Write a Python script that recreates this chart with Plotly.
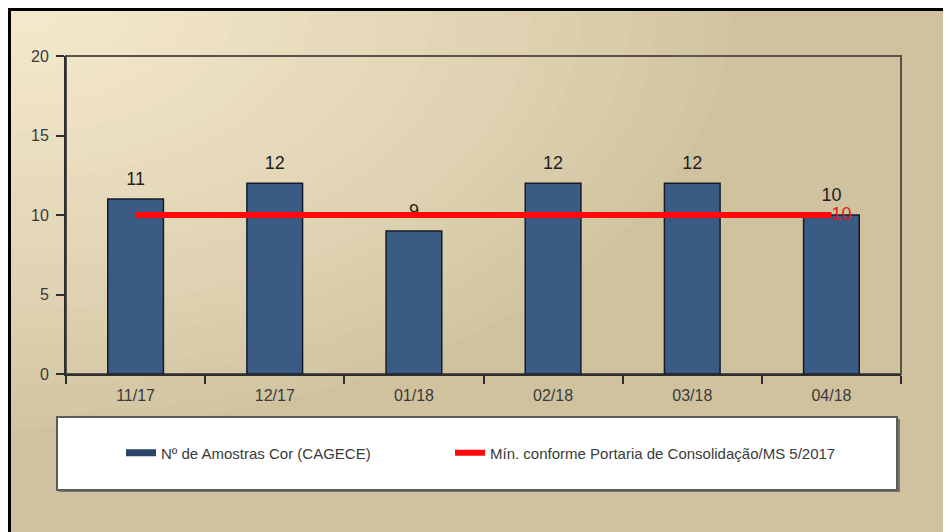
import plotly.graph_objects as go

categories = ["11/17", "12/17", "01/18", "02/18", "03/18", "04/18"]
amostras = [11, 12, 9, 12, 12, 10]
minimo = [10, 10, 10, 10, 10, 10]
y_ticks = [0, 5, 10, 15, 20]

OFF = 8  # page body margin
W, H = 951 - OFF, 532 - OFF
FONT = "Liberation Sans, Arial, sans-serif"

def px_x(x):
    return (x - OFF) / W

def px_y(y):
    return 1 - (y - OFF) / H

fig = go.Figure()

fig.add_trace(go.Bar(
    x=categories, y=amostras, width=0.4,
    marker=dict(color="#3b5a84", line=dict(color="#151b2b", width=1.5)),
    showlegend=False, hoverinfo="x+y",
))

# value labels above bars
fig.add_trace(go.Scatter(
    x=categories, y=amostras, mode="markers+text",
    text=[str(v) for v in amostras], textposition="top center",
    textfont=dict(family=FONT, size=18, color="#1e1e1e"),
    marker=dict(size=14, color="rgba(0,0,0,0)"),
    showlegend=False, hoverinfo="skip", cliponaxis=False,
))

min_labels = [""] * (len(minimo) - 1) + [str(minimo[-1])]
fig.add_trace(go.Scatter(
    x=categories, y=minimo, mode="lines+text",
    line=dict(color="#ff0a0a", width=6),
    text=min_labels, textposition="middle right",
    textfont=dict(family=FONT, size=18, color="#e8141a"),
    showlegend=False, cliponaxis=False,
))

# legend entries
fig.add_trace(go.Scatter(
    x=[None], y=[None], mode="lines",
    line=dict(color="#2b4469", width=7),
    name="Nº de Amostras Cor (CAGECE)", legend="legend",
))
fig.add_trace(go.Scatter(
    x=[None], y=[None], mode="lines",
    line=dict(color="#ff0a0a", width=6),
    name="Mín. conforme Portaria de Consolidação/MS 5/2017", legend="legend2",
))

# background gradient (radial highlight top-left)
shapes = []
outer = (0xd0, 0xc2, 0x9f)
inner = (0xf5, 0xe9, 0xcd)
shapes.append(dict(type="rect", xref="paper", yref="paper",
                   x0=px_x(8), x1=px_x(949), y0=px_y(545), y1=px_y(8),
                   fillcolor="#d0c29f", line=dict(width=0), layer="below"))
N = 30
cx, cy = 30, 10
for i in range(N):
    t = i / (N - 1)
    s = 1 - t
    rx, ry = 720 * s + 5, 430 * s + 3
    tt = t ** 0.8
    col = tuple(int(round(outer[k] + (inner[k] - outer[k]) * tt)) for k in range(3))
    shapes.append(dict(type="circle", xref="paper", yref="paper",
                       x0=px_x(cx - rx), x1=px_x(cx + rx),
                       y0=px_y(cy + ry), y1=px_y(cy - ry),
                       fillcolor="rgb(%d,%d,%d)" % col, line=dict(width=0),
                       layer="below"))
# black frame
shapes.append(dict(type="rect", xref="paper", yref="paper",
                   x0=px_x(9), x1=px_x(949), y0=px_y(560), y1=px_y(9),
                   line=dict(color="#000000", width=4), layer="below"))
# plot area frame (top & right)
shapes.append(dict(type="rect", xref="paper", yref="paper",
                   x0=px_x(66), x1=px_x(901), y0=px_y(374), y1=px_y(56),
                   line=dict(color="#5a5448", width=2), layer="below"))
# legend box shadow + box
shapes.append(dict(type="rect", xref="paper", yref="paper",
                   x0=px_x(59), x1=px_x(900), y0=px_y(492), y1=px_y(419),
                   fillcolor="#7a7466", line=dict(width=0), layer="below"))
shapes.append(dict(type="rect", xref="paper", yref="paper",
                   x0=px_x(57), x1=px_x(897), y0=px_y(490), y1=px_y(417),
                   fillcolor="white", line=dict(color="#5c5c5c", width=2),
                   layer="below"))

legend_common = dict(
    orientation="h", yanchor="middle", xanchor="left",
    bgcolor="rgba(0,0,0,0)", borderwidth=0,
    font=dict(family=FONT, size=15, color="#3a3a3a"),
)

fig.update_layout(
    width=W, height=H,
    margin=dict(l=0, r=0, t=0, b=0, autoexpand=False),
    paper_bgcolor="white",
    plot_bgcolor="rgba(0,0,0,0)",
    font=dict(family=FONT, color="#333333"),
    shapes=shapes,
    showlegend=True,
    legend=dict(x=px_x(121), y=px_y(453), **legend_common),
    legend2=dict(x=px_x(450), y=px_y(453), **legend_common),
    xaxis=dict(
        domain=[px_x(66), px_x(901)], automargin=False,
        type="category", categoryorder="array", categoryarray=categories,
        showline=True, linecolor="#2e2e2e", linewidth=2,
        ticks="outside", tickson="boundaries", ticklen=8,
        tickcolor="#2e2e2e", tickwidth=2, ticklabelstandoff=6,
        tickfont=dict(family=FONT, size=16, color="#3a3a3a"),
        showgrid=False, zeroline=False, fixedrange=True,
    ),
    yaxis=dict(
        domain=[px_y(374), px_y(56)], automargin=False,
        range=[0, 20], tickvals=y_ticks,
        showline=True, linecolor="#2e2e2e", linewidth=2,
        ticks="outside", ticklen=8, tickcolor="#2e2e2e", tickwidth=2,
        ticklabelstandoff=4,
        tickfont=dict(family=FONT, size=16, color="#3a3a3a"),
        showgrid=False, zeroline=False, fixedrange=True,
    ),
)

fig.write_html("out.html")
